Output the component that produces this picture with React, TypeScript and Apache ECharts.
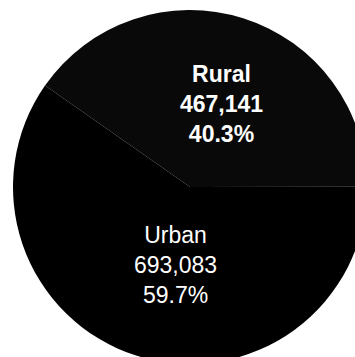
import React, { useEffect, useRef } from "react";
import * as echarts from "echarts";

const categories = ["Rural", "Urban"];
const values = [467141, 693083];
const sliceColors = ["#090909", "#000000"];
const labelWeights = ["bold", "normal"];

function withCommas(n: number): string {
  return String(n).replace(/\B(?=(\d{3})+(?!\d))/g, ",");
}

export default function App() {
  const ref = useRef<HTMLDivElement>(null);
  useEffect(() => {
    document.body.style.margin = "0";
    const chart = echarts.init(ref.current!, null, { renderer: "svg" });
    chart.setOption({
      animation: false,
      backgroundColor: "#ffffff",
      series: [
        {
          type: "pie",
          center: [190, 187],
          radius: [0, 177],
          startAngle: 145,
          clockwise: true,
          percentPrecision: 1,
          silent: true,
          emphasis: { disabled: true },
          labelLine: { show: false },
          label: {
            show: true,
            position: "inside",
            color: "#ffffff",
            fontFamily: "Liberation Sans, Arial, sans-serif",
            fontSize: 23,
            lineHeight: 30,
            align: "center",
            formatter: (p: any) =>
              `${p.name}\n${withCommas(p.value)}\n${p.percent.toFixed(1)}%`,
          },
          data: categories.map((name, i) => ({
            name,
            value: values[i],
            itemStyle: { color: sliceColors[i], borderWidth: 0 },
            label: {
              fontWeight: labelWeights[i],
              fontSize: 23,
              offset: i === 1 ? [13, -9] : [4, 4],
            },
          })),
        },
      ],
    });
    return () => chart.dispose();
  }, []);
  return (
    <div
      ref={ref}
      style={{ position: "absolute", left: 0, top: 0, width: 355, height: 357 }}
    />
  );
}
